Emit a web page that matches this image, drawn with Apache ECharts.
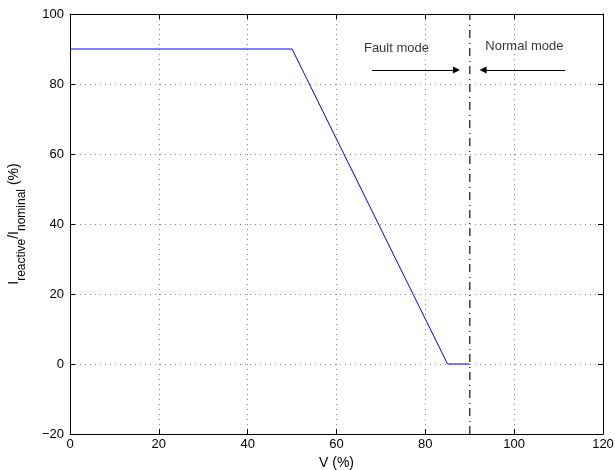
<!DOCTYPE html>
<html>
<head>
<meta charset="utf-8">
<script src="https://cdn.jsdelivr.net/npm/echarts@6/dist/echarts.min.js"></script>
<style>
  html, body { margin: 0; padding: 0; background: #fff; }
  #main { width: 615px; height: 470px; }
</style>
</head>
<body>
<div id="main"></div>
<script>
// curve of reactive current vs voltage
let curveV = [0, 50, 85, 90];
let curveI = [90, 90, 0, 0];
// boundary between fault and normal mode
let boundaryV = 90;
let xTicks = [0, 20, 40, 60, 80, 100, 120];
let yTicks = [-20, 0, 20, 40, 60, 80, 100];
// annotation arrows [from, to] in data units
let faultArrow = [[68, 84], [87, 84]];
let normalArrow = [[111.5, 84], [93, 84]];
let faultLabel = [73.5, 90.3];
let normalLabel = [102.3, 90.8];

let font = 'Liberation Sans, Arial, Helvetica, sans-serif';

function minus(v) {
  return String(v).replace('-', '\u2212');
}

let myChart = echarts.init(document.getElementById('main'));

let axisCommon = {
  axisLine: { show: true, onZero: false, lineStyle: { color: '#000', width: 1 } },
  axisTick: { show: true, inside: true, length: 5, lineStyle: { color: '#000' } },
  splitLine: { show: false }
};

myChart.setOption({
  animation: false,
  backgroundColor: '#fff',
  grid: { left: 70, right: 12, top: 14, bottom: 36, containLabel: false, outerBoundsMode: 'none' },
  xAxis: [
    Object.assign({}, axisCommon, {
      type: 'value', min: 0, max: 120, interval: 20, position: 'bottom',
      name: 'V (%)', nameLocation: 'middle', nameGap: 22,
      nameTextStyle: { fontFamily: font, fontSize: 14, color: '#000' },
      axisLabel: { margin: 4, fontFamily: font, fontSize: 13, color: '#000', formatter: minus },
      splitLine: { show: true, lineStyle: { color: '#888', type: [1, 4], width: 1 } }
    }),
    Object.assign({}, axisCommon, {
      type: 'value', min: 0, max: 120, interval: 20, position: 'top',
      axisLabel: { show: false }
    })
  ],
  yAxis: [
    Object.assign({}, axisCommon, {
      type: 'value', min: -20, max: 100, interval: 20, position: 'left',
      name: '{m|I}{s|reactive}{m|/I}{s|nominal}{m| (%)}',
      nameLocation: 'middle', nameGap: 42, nameRotate: 90,
      nameTextStyle: {
        fontFamily: font, color: '#000',
        rich: {
          m: { fontFamily: font, fontSize: 14, color: '#000', lineHeight: 28, verticalAlign: 'middle' },
          s: { fontFamily: font, fontSize: 12, color: '#000', lineHeight: 12, verticalAlign: 'bottom' }
        }
      },
      axisLabel: { margin: 6, fontFamily: font, fontSize: 13, color: '#000', formatter: minus },
      splitLine: { show: true, lineStyle: { color: '#888', type: [1, 4], width: 1 } }
    }),
    Object.assign({}, axisCommon, {
      type: 'value', min: -20, max: 100, interval: 20, position: 'right',
      axisLabel: { show: false }
    })
  ],
  series: [
    {
      type: 'line',
      data: curveV.map((v, i) => [v, curveI[i]]),
      symbol: 'none',
      lineStyle: { color: '#0000ff', width: 1 },
      z: 5
    },
    {
      type: 'line',
      data: [[boundaryV, -20], [boundaryV, 100]],
      symbol: 'none',
      lineStyle: { color: '#444', width: 1.6, type: [8, 4, 1, 5] },
      z: 4
    },
    {
      type: 'lines',
      coordinateSystem: 'cartesian2d',
      data: [{ coords: faultArrow }, { coords: normalArrow }],
      symbol: ['none', 'triangle'],
      symbolSize: 7,
      lineStyle: { color: '#000', width: 1, opacity: 1, curveness: 0 },
      z: 6
    },
    {
      type: 'scatter',
      data: [faultLabel.concat('Fault mode'), normalLabel.concat('Normal mode')],
      symbolSize: 0,
      label: {
        show: true, position: 'inside',
        formatter: p => p.data[2],
        fontFamily: font, fontSize: 13, color: '#000'
      },
      z: 6
    }
  ]
});
</script>
</body>
</html>
